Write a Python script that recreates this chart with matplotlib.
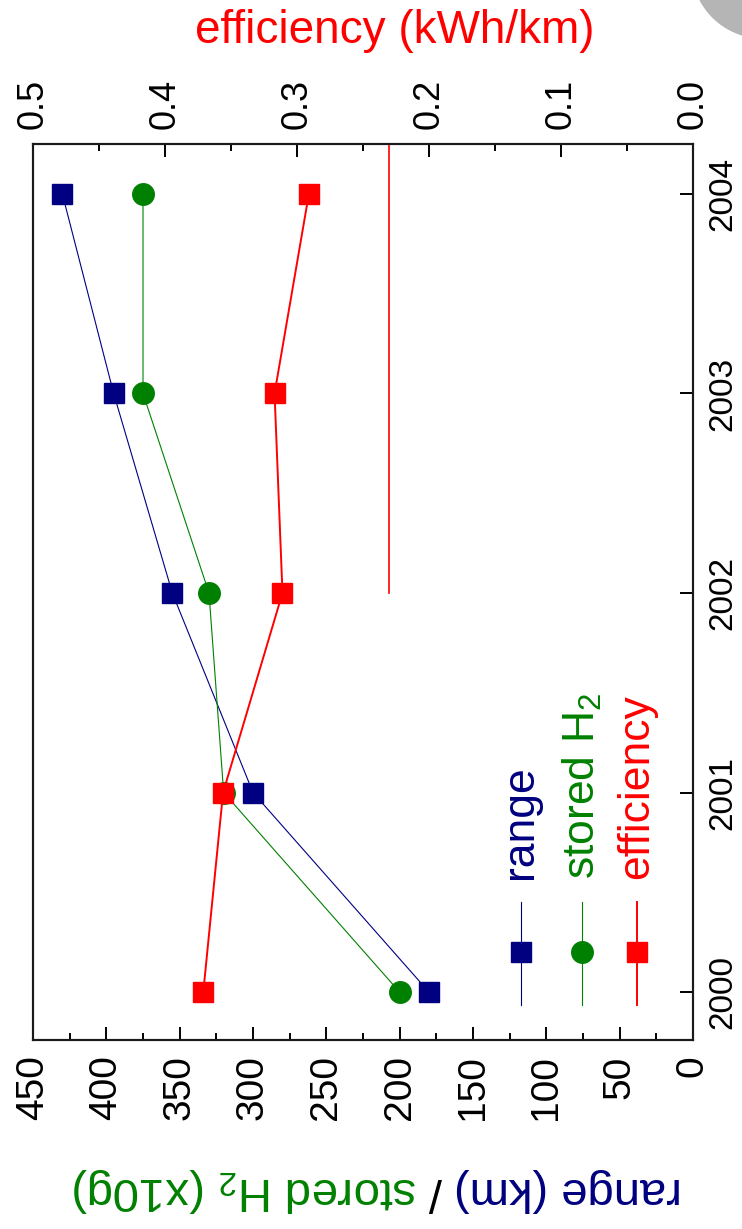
import numpy as np
import matplotlib
matplotlib.use('Agg')
import matplotlib.pyplot as plt
from matplotlib.ticker import MultipleLocator, FormatStrFormatter
from matplotlib.patches import Ellipse

plt.rcParams['font.family'] = ['Liberation Sans', 'DejaVu Sans']
plt.rcParams['mathtext.fontset'] = 'custom'
plt.rcParams['mathtext.rm'] = 'Liberation Sans'
plt.rcParams['mathtext.it'] = 'Liberation Sans:italic'
plt.rcParams['mathtext.default'] = 'regular'

# data (chart is drawn turned on its side: years run up the right side)
years = [2000, 2001, 2002, 2003, 2004]
range_km = [180, 300, 355, 395, 430]
stored_h2 = [200, 320, 330, 375, 375]          # x10 g
efficiency = [0.371, 0.356, 0.311, 0.317, 0.291]  # kWh/km
target_eff = [0.23, 0.23]
target_years = [2002, 2005]

range_ticks = np.arange(0, 451, 50)
eff_ticks = np.arange(0, 0.51, 0.1)

navy = '#000080'
green = '#008000'
red = '#ff0000'

W, H = 742, 1229
fig = plt.figure(figsize=(W / 100, H / 100), dpi=100)
ax = fig.add_axes([33 / W, 1 - 1040 / H, 660 / W, 896 / H])

ax.plot(range_km, years, color=navy, lw=0.8, marker='s', ms=14, mec=navy, zorder=3)
ax.plot(stored_h2, years, color=green, lw=0.8, marker='o', ms=15.5, mec=green, zorder=3)
ax.set_xlim(450, 0)
ax.set_ylim(1999.76, 2004.25)

ax.set_xticks(range_ticks)
ax.xaxis.set_minor_locator(MultipleLocator(25))
ax.tick_params(axis='x', which='both', direction='in', top=False, bottom=True,
               labelsize=28, labelrotation=90, pad=11, width=1.4)
ax.tick_params(axis='x', which='major', length=9.5)
ax.tick_params(axis='x', which='minor', length=5)

ax.set_yticks(years)
ax.tick_params(axis='y', direction='in', left=False, right=True, labelleft=False,
               labelright=True, labelsize=24, length=9.5, width=1.4, pad=10)
for lab in ax.get_yticklabels():
    lab.set_rotation(90)
    lab.set_va('center')

ax2 = ax.twiny()
ax2.plot(efficiency, years, color=red, lw=1.4, marker='s', ms=14, mec=red, zorder=3)
ax2.plot(target_eff, target_years, color=red, lw=1.2)
ax2.set_xlim(0.5, 0)
ax2.set_ylim(1999.76, 2004.25)
ax2.set_xticks(eff_ticks)
ax2.xaxis.set_major_formatter(FormatStrFormatter('%.1f'))
ax2.xaxis.set_minor_locator(MultipleLocator(0.05))
ax2.tick_params(axis='x', which='both', direction='in', top=True, bottom=False,
                labelsize=26, labelrotation=90, pad=11, width=1.4)
ax2.tick_params(axis='x', which='major', length=9.5)
ax2.tick_params(axis='x', which='minor', length=5)

for a in (ax, ax2):
    for s in a.spines.values():
        s.set_linewidth(1.5)
        s.set_color('#1a1a1a')

# legend, turned like the rest
leg = [('range', navy, 's', 0.739, 0.8, 14),
       ('stored H$_2$', green, 'o', 0.832, 0.8, 15.5),
       ('efficiency', red, 's', 0.915, 1.4, 14)]
for name, col, mk, lx, lw, ms in leg:
    ax2.plot([lx, lx], [0.039, 0.154], color=col, lw=lw, transform=ax2.transAxes,
             clip_on=False)
    ax2.plot([lx], [0.098], color=col, marker=mk, ms=ms, mec=col,
             transform=ax2.transAxes, clip_on=False)
    ax2.text(lx, 0.180, name, color=col, size=32, rotation=90, rotation_mode='anchor',
             ha='left', va='center', transform=ax2.transAxes)

fig.text(395 / W, 1 - 43 / H, 'efficiency (kWh/km)', color=red, size=33,
         ha='center', va='baseline')

# bottom label, upside down, built from right to left
fig.canvas.draw()
r = fig.canvas.get_renderer()
xr = 682
gap = 12
for txt, col in [('range (km)', navy), ('/', 'black'), ('stored H$_2$ (x10g)', green)]:
    t = fig.text(xr / W, 1 - 1178 / H, txt, color=col, size=34, rotation=180,
                 rotation_mode='anchor', ha='left', va='baseline')
    bb = t.get_window_extent(renderer=r)
    xr = bb.x0 - gap

fig.add_artist(Ellipse((763 / W, 1 + 33 / H), 142 / W, 142 / H, transform=fig.transFigure,
                       color='#b5b5b5', clip_on=False))

fig.savefig('out.png', dpi=100)
